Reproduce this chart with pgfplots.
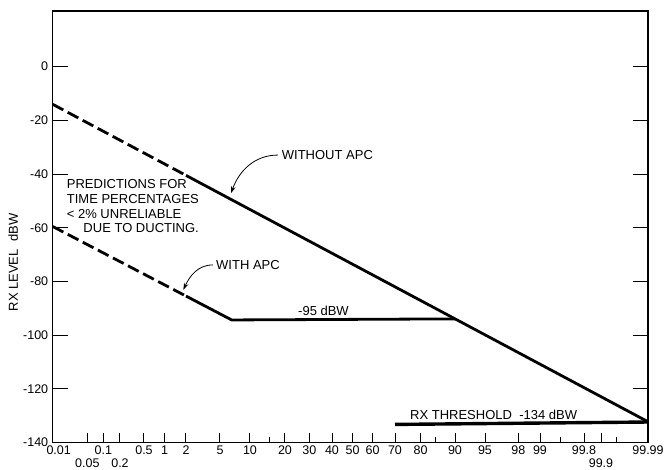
\documentclass[border=0pt]{standalone}
\usepackage{fontspec}
\setmainfont{Liberation Sans}
\usepackage{pgfplots}
\pgfplotsset{compat=1.18}
\usetikzlibrary{calc,arrows.meta}

\begin{document}
\begin{tikzpicture}[note/.style={anchor=base west, inner sep=0pt, font=\fontsize{13}{15}\selectfont}]
\begin{axis}[
  name=ax,
  width=595.3pt, height=431.7pt, scale only axis,
  xmin=52.7, xmax=648, ymin=-140, ymax=20.74,
  clip=false,
  axis line style={line width=1.2pt},
  /pgf/number format/assume math mode=true,
  tick label style={font=\fontsize{12.5}{14}\selectfont},
  xtick={52.7,103.3,144,164.7,186,220,250,285,309.3,332,352.7,372.7,395,420.7,455,485,518.3,540,584,648},
  xticklabels={\hspace*{12pt}0.01,0.1,0.5,1,2,5,10,20,30,40,50,60,70,80,90,95,98,99,99.8,99.99},
  extra x ticks={87.3,120,601},
  extra x tick labels={0.05,0.2,99.9},
  extra x tick style={tick label style={yshift=-13pt}},
  minor xtick={270,435,560.7,616},
  ytick=\empty,
  extra y ticks={-140,-120,...,0},
  extra y tick style={major tick length=15pt},
  minor ytick={-130,-110,...,10},
  tick align=inside,
  xtick pos=left,
  ytick pos=both,
  major tick length=10pt,
  minor tick length=6pt,
  tick style={black, line width=1pt},
  yticklabel style={xshift=-1pt},
]
% without APC
\addplot[black, line width=2.8pt, dash pattern=on 12pt off 5pt] coordinates {(52.7,-14) (186,-40.47)};
\addplot[black, line width=2.8pt] coordinates {(186,-40.47) (648,-132.2)};
% with APC
\addplot[black, line width=2.8pt, dash pattern=on 12pt off 5pt] coordinates {(52.7,-59.5) (186,-85.4)};
\addplot[black, line width=2.8pt, line join=miter] coordinates {(186,-85.4) (231.7,-94.3) (455,-93.9)};
% threshold
\addplot[black, line width=3.4pt] coordinates {(395,-133.2) (648,-132.3)};

\draw[-{Stealth[length=7pt,width=4.5pt]}, line width=0.8pt] (axis cs:278,-32.9) to[out=180,in=70] (axis cs:231,-47.1);
\draw[-{Stealth[length=7pt,width=4.5pt]}, line width=0.8pt] (axis cs:213,-73.8) to[out=180,in=65] (axis cs:183.3,-83.1);

\node[note] at (axis cs:281.7,-34.4) {WITHOUT APC};
\node[note] at (axis cs:216,-75.6) {WITH APC};
\node[note] at (axis cs:298,-92.8) {-95 dBW};
\node[note] at (axis cs:410,-131.2) {RX THRESHOLD\ \ -134 dBW};
\node[note] at (axis cs:66.7,-45.5) {PREDICTIONS FOR};
\node[note] at (axis cs:66.7,-50.9) {TIME PERCENTAGES};
\node[note] at (axis cs:66.7,-56.4) {< 2\% UNRELIABLE};
\node[note] at (axis cs:83.3,-61.7) {DUE TO DUCTING.};
\node[rotate=90, font=\fontsize{13}{15}\selectfont] at (axis cs:13.3,-72.9) {RX LEVEL\ \ dBW};
\end{axis}
\pgfresetboundingbox
\path ($(ax.south west)+(-52.7pt,-27.3pt)$) rectangle ($(ax.north east)+(17pt,11pt)$);
\end{tikzpicture}
\end{document}
